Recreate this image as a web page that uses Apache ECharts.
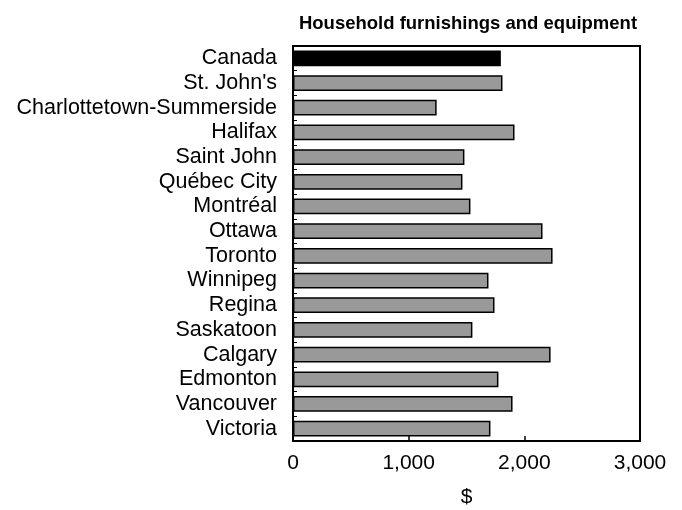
<!DOCTYPE html>
<html><head><meta charset="utf-8">
<script src="https://cdn.jsdelivr.net/npm/echarts@6/dist/echarts.min.js"></script>
<style>html,body{margin:0;padding:0;background:#fff}#c{width:682px;height:510px}</style>
</head><body><div id="c"></div>
<script>
const categories = ["Canada","St. John's","Charlottetown-Summerside","Halifax","Saint John","Québec City","Montréal","Ottawa","Toronto","Winnipeg","Regina","Saskatoon","Calgary","Edmonton","Vancouver","Victoria"];
const values = [1797,1811,1242,1915,1482,1465,1534,2157,2244,1690,1742,1551,2227,1776,1898,1707];
const xTicks = [0,1000,2000,3000];
const titleText = "Household furnishings and equipment";
const xName = "$";

const chart = echarts.init(document.getElementById('c'));
const font = "'Liberation Sans', Arial, sans-serif";
chart.setOption({
  animation:false,
  title:{text:titleText,left:463,textAlign:'center',top:9,textStyle:{fontFamily:font,fontSize:18.5,fontWeight:'bold',color:'#000'}},
  grid:{left:293,right:42,top:46,bottom:69,show:true,borderColor:'#000',borderWidth:2,backgroundColor:'transparent',
    containLabel:false,outerBoundsMode:'none'},
  xAxis:{type:'value',min:xTicks[0],max:xTicks[xTicks.length-1],interval:1000,
    name:xName,nameLocation:'middle',nameGap:46,nameTextStyle:{fontFamily:font,fontSize:21,color:'#000'},
    axisLine:{show:true,lineStyle:{color:'#000',width:2}},
    axisTick:{show:true,inside:true,length:5,lineStyle:{color:'#000',width:1.5}},
    axisLabel:{fontFamily:font,fontSize:21,color:'#000',margin:12,
      formatter:v=>v.toLocaleString('en-US')},
    splitLine:{show:false}},
  yAxis:{type:'category',data:categories,inverse:true,
    axisLine:{show:true,lineStyle:{color:'#000',width:2}},
    axisTick:{show:true,inside:true,length:4,interval:0,lineStyle:{color:'#000',width:1}},
    axisLabel:{fontFamily:font,fontSize:21.5,color:'#000',margin:16,interval:0}},
  series:[{type:'bar',barCategoryGap:'36%',
    data:values.map((v,i)=>({value:v,itemStyle:{color:i===0?'#000':'#999999'}})),
    itemStyle:{borderColor:'#000',borderWidth:1.5}}]
});
</script></body></html>
